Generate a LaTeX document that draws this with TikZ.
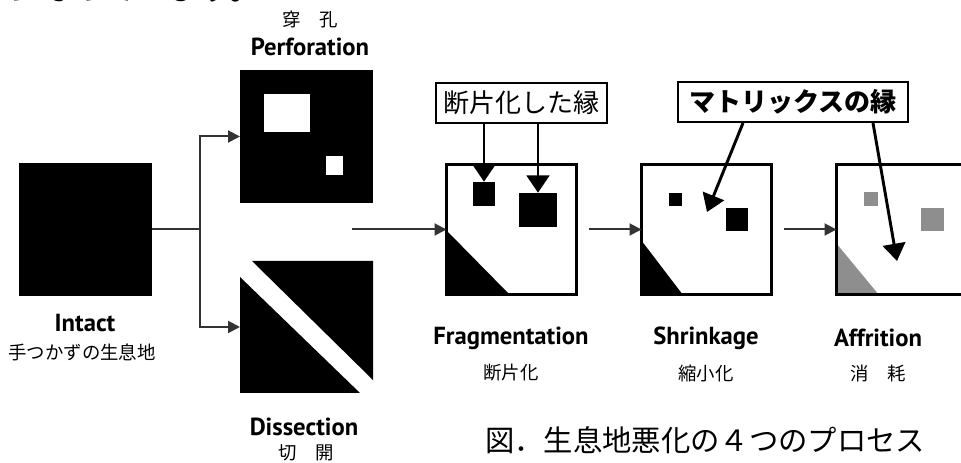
\documentclass[tikz,border=0pt]{standalone}
\usepackage{fontspec}
\setsansfont{PT Sans}
\newfontfamily\jp{Noto Sans CJK JP}
\usetikzlibrary{arrows.meta}
\definecolor{fade}{HTML}{8E8E8E}
\definecolor{connc}{HTML}{333333}
\begin{document}
\begin{tikzpicture}[x=0.75pt,y=-0.75pt,
  conn/.style={line width=1.5pt, draw=connc},
  connarrow/.style={conn,-{Triangle[length=9pt,width=9pt]}},
  callout/.style={line width=2.2pt,-{Triangle[length=13pt,width=17pt]}},
  hab/.style={rectangle, inner sep=0pt, outer sep=0pt, minimum width=99.75pt, minimum height=99.75pt},
  framed/.style={hab, draw, line width=2.25pt, minimum width=97.5pt, minimum height=97.5pt},
  en/.style={font=\sffamily\bfseries\fontsize{18.5pt}{20pt}\selectfont, inner sep=0pt},
  jps/.style={font=\jp\fontsize{13.8pt}{15pt}\selectfont, inner sep=0pt},
  lab/.style={draw, line width=1.5pt, inner sep=0pt, minimum height=30pt, font=\jp\fontsize{19.5pt}{22pt}\selectfont},
  capt/.style={font=\jp\fontsize{22pt}{24pt}\selectfont, inner sep=0pt}
]
\useasboundingbox (0,0) rectangle (961,463);
\clip (0,0) rectangle (961,463);

% cut-off line of text at the top
\node[font=\jp\bfseries\fontsize{24pt}{26pt}\selectfont, inner sep=0pt, anchor=base east] (toptext) at (262,0) {ようになっています。};

% Intact
\node[hab, fill=black] (intact) at (85.5,229.5) {};

% Perforation
\node[hab, fill=black] (perf) at (306.5,136.5) {};
\fill[white] (264,94) rectangle (310,132);
\fill[white] (326,156) rectangle (343,175);

% Dissection
\node[hab, minimum height=99pt] (diss) at (306.5,327) {};
\fill (252,261) -- (373,261) -- (373,380) -- cycle;
\fill (240,277) -- (240,393) -- (360,393) -- cycle;

% Fragmentation
\fill (446,230) -- (446,295) -- (510,295) -- cycle;
\node[fill=black, inner sep=0pt, minimum width=16.5pt, minimum height=18pt] (fs) at (484,194) {};
\node[fill=black, inner sep=0pt, minimum width=28.5pt, minimum height=25.5pt] (fl) at (538,210) {};
\node[framed] (frag) at (511.5,229.5) {};

% Shrinkage
\fill (641,240) -- (641,295) -- (683,295) -- cycle;
\fill (669,193) rectangle (682,206);
\fill (726,208) rectangle (748,231);
\node[framed] (shrink) at (706.5,229.5) {};

% Affrition
\fill[fade] (836,243) -- (836,295) -- (879,295) -- cycle;
\fill[fade] (864,192) rectangle (878,206);
\fill[fade] (921,208) rectangle (944,231);
\node[framed] (affr) at (901.5,229.5) {};

% connectors
\coordinate (j) at (200,229.5);
\draw[conn] (intact.east) -- (j);
\draw[connarrow] (j) |- (perf.west);
\draw[connarrow] (j) |- (diss.west);
\coordinate (s) at (352,229.5);
\draw[connarrow] (s) -- (frag.west);
\draw[connarrow, shorten <=9pt] (frag.east) -- (shrink.west);
\draw[connarrow, shorten <=9pt] (shrink.east) -- (affr.west);

% callout labels
\node[lab, minimum width=128.25pt] (lab1) at (521.5,103) {断片化した縁};
\node[lab, minimum width=172.5pt, font=\jp\bfseries\fontsize{19.5pt}{22pt}\selectfont] (lab2) at (793,102) {マトリックスの縁};
\draw[callout] (lab1.south -| fs.north) -- (fs.north);
\draw[callout] (lab1.south -| fl.north) -- (fl.north);
\coordinate (m1) at (707,212);
\coordinate (m2) at (897,261);
\draw[callout] ([xshift=-37.5pt]lab2.south) -- (m1);
\draw[callout] ([xshift=60pt]lab2.south) -- (m2);

% texts
\node[jps] (jperf) at (310,20) {穿　孔};
\node[en] (tperf) at (310,47) {Perforation};
\node[en] (tint) at (85,323) {Intact};
\node[jps] (jint) at (82,352) {手つかずの生息地};
\node[en] (tdis) at (304,427) {Dissection};
\node[jps] (jdis) at (306,453) {切　開};
\node[en] (tfrag) at (511,338) {Fragmentation};
\node[jps] (jfrag) at (511,373) {断片化};
\node[en] (tshr) at (706,338) {Shrinkage};
\node[jps] (jshr) at (706,373) {縮小化};
\node[en] (taff) at (878,338) {Affrition};
\node[jps] (jaff) at (878,373) {消　耗};
\node[capt] (cap) at (705,440) {図．生息地悪化の４つのプロセス};
\end{tikzpicture}
\end{document}
